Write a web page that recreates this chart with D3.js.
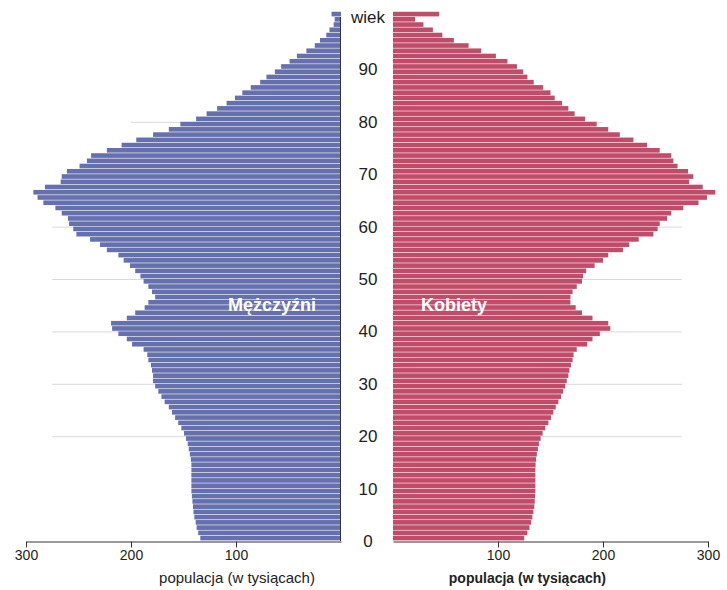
<!DOCTYPE html>
<html>
<head>
<meta charset="utf-8">
<script src="https://cdn.jsdelivr.net/npm/d3@7"></script>
<style>
  html, body { margin: 0; padding: 0; background: #fff; }
  svg { display: block; font-family: "Liberation Sans", Arial, sans-serif; }
</style>
</head>
<body>
<svg id="chart" width="727" height="590"></svg>
<script>
// ages 0..100 (100 = 100+)
const ages = d3.range(0, 101);
const men = [
  134, 136, 137.5, 138.4, 139.7, 140.5, 141, 141.5, 142, 142.5,
  142.5, 142.5, 142.5, 142.5, 142.5, 143, 144, 145, 146, 147.6,
  149.5, 152, 155, 158, 161, 164, 168, 171, 174, 177,
  179, 179, 180, 181, 183.5, 184.5, 188, 199, 204, 212,
  218, 219, 204, 196, 187, 183.5, 177, 180, 183.5, 188,
  191, 196, 201, 207, 212, 223, 229.5, 239, 252, 255,
  259, 260, 266, 272, 283.5, 289, 293, 282, 267, 266,
  261, 249, 242, 238, 223, 209, 195, 179, 164, 153,
  138, 128, 118, 109, 101, 94, 86, 77, 71, 63,
  57, 49, 42, 33, 25, 20, 14, 11, 7, 6,
  9
];
const women = [
  125, 128, 130, 131.5, 132.7, 133.7, 134.6, 135, 135.3, 135.6,
  135.6, 135.6, 135.6, 135.6, 135.8, 136.2, 137, 138, 139, 140.6,
  142.5, 145, 148, 150.5, 152.7, 155, 157.5, 160, 162, 164,
  165.5, 167, 168, 169.5, 171, 172, 175, 185, 190, 197,
  207, 205, 190, 180, 174, 169, 169, 171, 175, 180,
  181, 184, 192, 200, 205, 219, 225, 234, 248, 252,
  254, 261, 265, 276.5, 291, 299, 307, 295, 282, 286,
  281, 271, 267, 265, 254, 242, 229, 216, 205, 194,
  183, 173, 167, 161, 154, 150, 143, 134, 128, 124,
  118, 109, 98, 84, 72, 58, 47, 38, 29, 21,
  44
];
const xTicks = [100, 200, 300];
const ageTicks = [0, 10, 20, 30, 40, 50, 60, 70, 80, 90, 100];
const ageTickLabels = ["0", "10", "20", "30", "40", "50", "60", "70", "80", "90", "wiek"];
const gridAges = [20, 30, 40, 50, 60, 80];
const gridExtent = [275, 275, 275, 275, 275, 200];
const seriesNames = ["Mężczyźni", "Kobiety"];
const axisTitle = "populacja (w tysiącach)";

const colMen = "#6670ad";
const colWomen = "#c14c6a";

const svg = d3.select("#chart");

const y = d3.scaleLinear().domain([0, 101]).range([541, 541 - 5.24 * 101]);
const xL = d3.scaleLinear().domain([0, 300]).range([341, 26]);
const xR = d3.scaleLinear().domain([0, 300]).range([393, 708]);

// gridlines
const gridData = gridAges.map((a, i) => ({ a, e: gridExtent[i] }));
svg.append("g").selectAll("line.gl").data(gridData).join("line")
  .attr("x1", d => xL(d.e)).attr("x2", xL(0))
  .attr("y1", d => y(d.a) + 0.5).attr("y2", d => y(d.a) + 0.5)
  .attr("stroke", "#d9d9d9").attr("stroke-width", 1);
svg.append("g").selectAll("line.gr").data(gridData).join("line")
  .attr("x1", xR(0)).attr("x2", d => xR(d.e))
  .attr("y1", d => y(d.a) + 0.5).attr("y2", d => y(d.a) + 0.5)
  .attr("stroke", "#d9d9d9").attr("stroke-width", 1);

const gap = 0.6;
// men bars
svg.append("g").selectAll("rect").data(ages).join("rect")
  .attr("x", a => xL(men[a]))
  .attr("width", a => xL(0) - xL(men[a]))
  .attr("y", a => y(a + 1))
  .attr("height", a => y(a) - y(a + 1) - gap)
  .attr("fill", colMen);

// women bars
svg.append("g").selectAll("rect").data(ages).join("rect")
  .attr("x", xR(0))
  .attr("width", a => xR(women[a]) - xR(0))
  .attr("y", a => y(a + 1))
  .attr("height", a => y(a) - y(a + 1) - gap)
  .attr("fill", colWomen);

// central vertical line
svg.append("line")
  .attr("x1", xL(0) - 0.5).attr("x2", xL(0) - 0.5)
  .attr("y1", y(100)).attr("y2", y(0))
  .attr("stroke", "#333").attr("stroke-width", 1);

// x axes
const axL = d3.axisBottom(xL).tickValues(xTicks).tickSizeInner(6).tickSizeOuter(0).tickPadding(3);
const gL = svg.append("g").attr("transform", `translate(0,${y(0) + 0.5})`).call(axL);
const axR = d3.axisBottom(xR).tickValues(xTicks).tickSizeInner(6).tickSizeOuter(0).tickPadding(3);
const gR = svg.append("g").attr("transform", `translate(0,${y(0) + 0.5})`).call(axR);
[gL, gR].forEach(g => {
  g.select(".domain").attr("stroke", "#333");
  g.selectAll(".tick line").attr("stroke", "#333");
  g.selectAll(".tick text").attr("fill", "#222")
    .style("font-size", "14px").style("font-family", "'Liberation Sans', Arial, sans-serif");
});

// axis titles
svg.append("text").attr("x", xL(100) + 1).attr("y", 583)
  .attr("text-anchor", "middle").attr("fill", "#222")
  .style("font-size", "15px").text(axisTitle);
svg.append("text").attr("x", xR(128)).attr("y", 583)
  .attr("text-anchor", "middle").attr("fill", "#222")
  .style("font-size", "14px").style("font-weight", "bold").text(axisTitle);

// age labels
svg.append("g").selectAll("text").data(ageTicks).join("text")
  .attr("x", 368)
  .attr("y", a => y(a))
  .attr("dy", "0.35em")
  .attr("text-anchor", "middle")
  .attr("fill", "#222")
  .style("font-size", "17px")
  .text((a, i) => ageTickLabels[i]);

// series labels
svg.append("text").attr("x", 272).attr("y", 305).attr("dy", "0.35em")
  .attr("text-anchor", "middle").attr("fill", "#fff")
  .style("font-size", "18px").style("font-weight", "bold")
  .text(seriesNames[0]);
svg.append("text").attr("x", 454).attr("y", 305).attr("dy", "0.35em")
  .attr("text-anchor", "middle").attr("fill", "#fff")
  .style("font-size", "18px").style("font-weight", "bold")
  .text(seriesNames[1]);
</script>
</body>
</html>
